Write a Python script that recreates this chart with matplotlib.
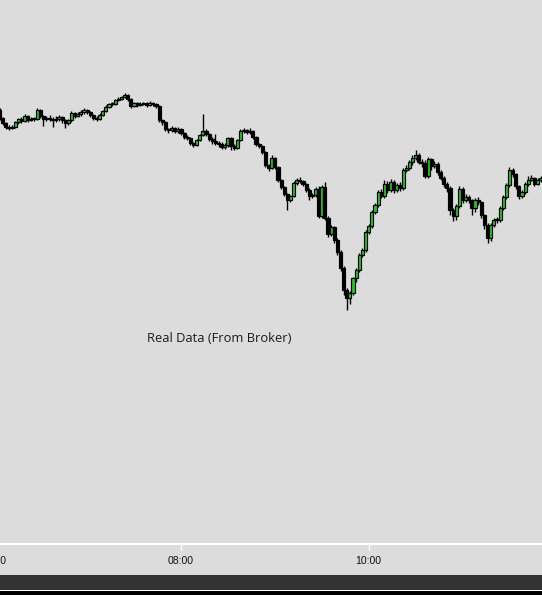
import matplotlib
matplotlib.use("Agg")
import matplotlib.pyplot as plt
from matplotlib.patches import Rectangle
import numpy as np

# 2-minute candles, first one opens at 06:04
start_minute = 364
bar_minutes = 2
first_open = 590

closes = [
    582, 577, 573, 572, 573, 578, 581, 579, 584, 580,
    581, 581, 590, 584, 581, 582, 581, 580, 581, 583,
    580, 577, 580, 587, 584, 586, 588, 590, 588, 585,
    582, 581, 585, 589, 593, 596, 596, 600, 601, 603,
    605, 601, 594, 597, 595, 596, 597, 595, 597, 596,
    594, 580, 578, 571, 570, 572, 569, 571, 567, 563,
    562, 557, 555, 560, 565, 569, 566, 561, 559, 557,
    556, 553, 555, 562, 554, 552, 560, 569, 570, 568,
    569, 563, 556, 554, 548, 535, 532, 542, 533, 520,
    513, 506, 500, 504, 517, 520, 519, 516, 510, 504,
    505, 511, 484, 513, 482, 466, 473, 460, 448, 432,
    410, 402, 407, 422, 430, 445, 450, 468, 474, 488,
    495, 508, 504, 516, 510, 518, 510, 515, 512, 530,
    532, 538, 542, 545, 538, 537, 524, 541, 534, 536,
    528, 522, 516, 512, 490, 484, 494, 511, 500, 503,
    500, 492, 500, 498, 485, 475, 462, 475, 480, 480,
    492, 503, 515, 530, 526, 514, 504, 508, 516, 520,
    522, 516, 520, 522,
]

highs = [
    592, 583, 578, 575, 575, 579, 582, 583, 586, 585,
    583, 583, 592, 591, 585, 584, 585, 583, 584, 585,
    584, 581, 581, 589, 588, 588, 590, 592, 591, 589,
    586, 584, 587, 590, 595, 597, 598, 601, 603, 604,
    607, 606, 602, 598, 598, 598, 598, 598, 599, 598,
    597, 595, 581, 579, 572, 574, 573, 573, 572, 568,
    565, 563, 558, 561, 566, 586, 571, 567, 563, 566,
    559, 558, 557, 563, 563, 556, 561, 571, 572, 571,
    572, 570, 564, 557, 555, 549, 536, 545, 543, 534,
    521, 514, 507, 505, 519, 522, 523, 520, 517, 512,
    507, 513, 514, 515, 518, 484, 475, 474, 462, 450,
    434, 412, 409, 423, 432, 447, 452, 470, 476, 490,
    497, 510, 511, 520, 519, 521, 520, 517, 518, 532,
    535, 540, 545, 550, 547, 541, 540, 543, 542, 539,
    538, 530, 524, 518, 514, 492, 496, 514, 513, 506,
    505, 501, 502, 503, 499, 486, 477, 477, 482, 483,
    494, 505, 517, 533, 532, 527, 515, 510, 518, 524,
    525, 523, 522, 524,
]

lows = [
    580, 575, 571, 570, 571, 572, 576, 577, 578, 578,
    579, 579, 580, 582, 574, 579, 579, 573, 578, 579,
    577, 572, 575, 578, 582, 583, 584, 586, 586, 583,
    580, 579, 580, 584, 588, 592, 594, 595, 599, 600,
    602, 599, 592, 593, 593, 594, 595, 593, 594, 594,
    592, 578, 575, 569, 567, 568, 567, 567, 565, 561,
    560, 555, 553, 554, 559, 564, 564, 559, 556, 555,
    553, 551, 551, 553, 550, 550, 551, 559, 567, 566,
    566, 561, 554, 552, 546, 533, 529, 531, 531, 518,
    511, 504, 490, 498, 503, 515, 517, 514, 508, 500,
    502, 503, 482, 482, 480, 463, 464, 457, 445, 429,
    405, 390, 396, 405, 418, 428, 443, 448, 466, 472,
    486, 493, 502, 502, 507, 508, 507, 508, 509, 510,
    528, 530, 535, 540, 536, 533, 522, 522, 530, 532,
    525, 520, 513, 508, 485, 479, 480, 492, 497, 498,
    497, 485, 488, 495, 482, 471, 457, 459, 473, 477,
    478, 490, 501, 513, 523, 511, 501, 502, 506, 514,
    519, 514, 515, 518,
]

tick_minutes = [360, 480, 600]
tick_labels = ["06:00", "08:00", "10:00"]

bg = "#dcdcdc"
up_color = "#22c822"

closes = np.array(closes, dtype=float)
opens = np.concatenate([[first_open], closes[:-1]])
highs = np.array(highs, dtype=float)
lows = np.array(lows, dtype=float)
t = start_minute + bar_minutes * np.arange(len(closes))

fig = plt.figure(figsize=(5.42, 5.95), dpi=100, facecolor=bg)
ax = fig.add_axes([0, 51 / 595, 1, 544 / 595], facecolor=bg)

up = closes > opens
colors = np.where(up, up_color, "black")
bottoms = np.minimum(opens, closes)
heights = np.maximum(np.abs(closes - opens), 1.0)

ax.vlines(t, lows, highs, color="black", linewidth=1.0, zorder=2)
ax.bar(t, heights, bottom=bottoms, width=2.0, color=colors,
       edgecolor="black", linewidth=0.85, zorder=3)

ax.set_xlim(364.3, 710.8)
ax.set_ylim(156, 700)

for side in ["top", "left", "right"]:
    ax.spines[side].set_visible(False)
ax.spines["bottom"].set_color("white")
ax.spines["bottom"].set_linewidth(1.5)

ax.set_yticks([])
ax.set_xticks(tick_minutes[1:])
ax.set_xticklabels(tick_labels[1:])
ax.tick_params(axis="x", direction="out", length=4, width=1, color="white",
               pad=5, labelsize=7.6, labelcolor="#111111")
for lab in ax.get_xticklabels():
    lab.set_family("Liberation Sans")

# first label sits left of the visible window, only its tail shows
ax.annotate(tick_labels[0], xy=(tick_minutes[0], 0),
            xycoords=("data", "axes fraction"),
            xytext=(0, -9), textcoords="offset points",
            ha="center", va="top", fontsize=7.6, color="#111111",
            family="Liberation Sans", annotation_clip=False)

fig.text(219 / 542, (595 - 338) / 595, "Real Data (From Broker)",
         ha="center", va="center", fontsize=9.3, color="#1a1a1a",
         family="Open Sans")

# bottom bar strip
fig.patches.append(Rectangle((0, 5.5 / 595), 1, 15 / 595, transform=fig.transFigure,
                             facecolor="#333333", edgecolor="none"))
fig.patches.append(Rectangle((0, 4 / 595), 1, 1.5 / 595, transform=fig.transFigure,
                             facecolor="white", edgecolor="none"))
fig.patches.append(Rectangle((0, 0), 1, 4 / 595, transform=fig.transFigure,
                             facecolor="black", edgecolor="none"))

fig.savefig("out.png", dpi=100, facecolor=bg)
